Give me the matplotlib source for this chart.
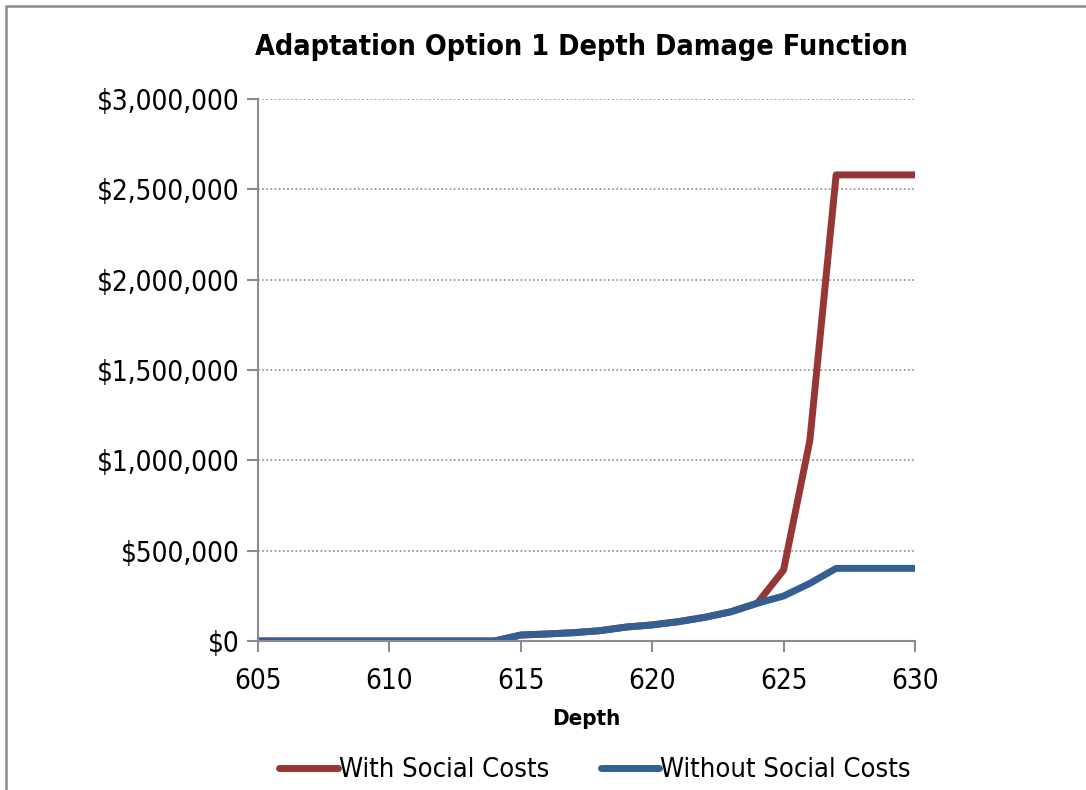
import matplotlib
matplotlib.use("Agg")
import matplotlib.pyplot as plt
from matplotlib import font_manager
from matplotlib.ticker import FuncFormatter, MultipleLocator
from matplotlib.patches import Rectangle

# the original uses a narrow Arial-like face; pick a condensed font if one exists
names = {(f.name, f.stretch) for f in font_manager.fontManager.ttflist}
if any(n == 'Liberation Sans Narrow' for n, s in names):
    plt.rcParams['font.family'] = ['Liberation Sans Narrow', 'DejaVu Sans']
elif any(n == 'DejaVu Sans' and s != 'normal' for n, s in names):
    plt.rcParams['font.family'] = ['DejaVu Sans']
    plt.rcParams['font.stretch'] = 'condensed'
else:
    plt.rcParams['font.family'] = ['Liberation Sans', 'DejaVu Sans']

# depth values and damage estimates
depth = [605, 606, 607, 608, 609, 610, 611, 612, 613, 614, 615, 616, 617,
         618, 619, 620, 621, 622, 623, 624, 625, 626, 627, 628, 629, 630]
with_social = [0, 0, 0, 0, 0, 0, 0, 0, 0, 0, 33000, 39000, 46000,
               57000, 77000, 89000, 107000, 131000, 162000, 209000,
               393000, 1110000, 2580000, 2580000, 2580000, 2580000]
without_social = [0, 0, 0, 0, 0, 0, 0, 0, 0, 0, 33000, 39000, 46000,
                  57000, 77000, 89000, 107000, 131000, 162000, 209000,
                  249000, 319000, 402000, 402000, 402000, 402000]

red = '#953735'
blue = '#335f93'
grey = '#8c8c8c'

fig = plt.figure(figsize=(10.86, 7.9), dpi=100)
ax = fig.add_axes([0.2376, 0.1886, 0.6049, 0.6861])

ax.plot(depth, with_social, color=red, linewidth=5, label='With Social Costs',
        solid_capstyle='round', solid_joinstyle='round')
ax.plot(depth, without_social, color=blue, linewidth=5, label='Without Social Costs',
        solid_capstyle='round', solid_joinstyle='round')

ax.set_xlim(605, 630)
ax.set_ylim(0, 3000000)
ax.xaxis.set_major_locator(MultipleLocator(5))
ax.yaxis.set_major_locator(MultipleLocator(500000))
ax.yaxis.set_major_formatter(FuncFormatter(lambda v, p: '${:,.0f}'.format(v)))

ax.grid(axis='y', linestyle=(0, (1, 1.5)), color=grey, linewidth=1.2)
ax.set_axisbelow(True)
for s in ['top', 'right']:
    ax.spines[s].set_visible(False)
for s in ['left', 'bottom']:
    ax.spines[s].set_color(grey)
    ax.spines[s].set_linewidth(1.5)
ax.tick_params(axis='both', colors=grey, width=1.5, length=8, labelsize=20,
               labelcolor='black')
ax.tick_params(axis='y', pad=5)
ax.tick_params(axis='x', pad=11)

fig.text(0.5355, 0.9405, 'Adaptation Option 1 Depth Damage Function',
         fontsize=20.6, fontweight='bold', ha='center', va='center')
ax.set_xlabel('Depth', fontsize=16, fontweight='bold', labelpad=10)

fig.legend(loc='center', bbox_to_anchor=(0.548, 0.025), ncol=2,
           frameon=False, fontsize=19.5, handlelength=2.15, handletextpad=0.05,
           columnspacing=1.9)

# chart frame (only the top and left edges fall inside the picture)
fig.patches.append(Rectangle((0.0055, -0.05), 1.2, 1.0424, transform=fig.transFigure,
                             fill=False, edgecolor=grey, linewidth=1.8))

fig.savefig('out.png', dpi=100)
